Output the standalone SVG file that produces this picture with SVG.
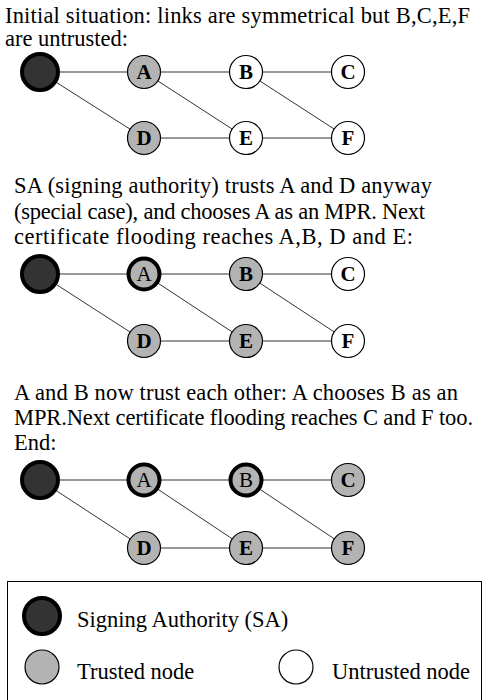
<svg xmlns="http://www.w3.org/2000/svg" width="485" height="700" viewBox="0 0 485 700">
<style>
.t{font-family:"Liberation Serif","Times New Roman",serif;font-size:22.5px;fill:#000}
.lbl{font-family:"Liberation Serif","Times New Roman",serif;font-size:21px;font-weight:bold;text-anchor:middle;fill:#000}
.lbln{font-family:"Liberation Serif","Times New Roman",serif;font-size:21px;text-anchor:middle;fill:#000}
.sa{fill:#333;stroke:#000;stroke-width:4}
.tr{fill:#b3b3b3;stroke:#000;stroke-width:1.2}
.un{fill:#fff;stroke:#000;stroke-width:1.2}
.mpr{fill:#b3b3b3;stroke:#000;stroke-width:4}
.e{stroke:#333;stroke-width:1;fill:none}
</style>
<rect x="0" y="0" width="485" height="700" fill="#fff"/>

<g id="text1">
<text class="t" x="5" y="23" textLength="465" lengthAdjust="spacing">Initial situation: links are symmetrical but B,C,E,F</text>
<text class="t" x="5" y="46">are untrusted:</text>
</g>
<g id="text2">
<text class="t" x="14" y="193" textLength="418" lengthAdjust="spacing">SA (signing authority) trusts A and D anyway</text>
<text class="t" x="14" y="219" textLength="411" lengthAdjust="spacing">(special case), and chooses A as an MPR. Next</text>
<text class="t" x="14" y="244" textLength="399" lengthAdjust="spacing">certificate flooding reaches A,B, D and E:</text>
</g>
<g id="text3">
<text class="t" x="14" y="400" textLength="444" lengthAdjust="spacing">A and B now trust each other: A chooses B as an</text>
<text class="t" x="14" y="425" textLength="459" lengthAdjust="spacing">MPR.Next certificate flooding reaches C and F too.</text>
<text class="t" x="14" y="450">End:</text>
</g>

<g id="connectors">
<path class="e" d="M40 72H348M144 138H348M40 72L144 138M144 72L246 138M246 72L348 138"/>
<path class="e" d="M40 274H348M144 341H348M40 274L144 341M144 274L246 341M246 274L348 341"/>
<path class="e" d="M40 480H348M144 548H348M40 480L144 548M144 480L246 548M246 480L348 548"/>
</g>

<g id="d1-SA"><circle class="sa" cx="40" cy="72" r="18"/></g>
<g id="d1-A"><circle class="tr" cx="144" cy="72" r="16.5"/><text class="lbl" x="144" y="79">A</text></g>
<g id="d1-B"><circle class="un" cx="246" cy="72" r="16.5"/><text class="lbl" x="246" y="79">B</text></g>
<g id="d1-C"><circle class="un" cx="348" cy="72" r="16.5"/><text class="lbl" x="348" y="79">C</text></g>
<g id="d1-D"><circle class="tr" cx="144" cy="138" r="16.5"/><text class="lbl" x="144" y="145">D</text></g>
<g id="d1-E"><circle class="un" cx="246" cy="138" r="16.5"/><text class="lbl" x="246" y="145">E</text></g>
<g id="d1-F"><circle class="un" cx="348" cy="138" r="16.5"/><text class="lbl" x="348" y="145">F</text></g>

<g id="d2-SA"><circle class="sa" cx="40" cy="274" r="18"/></g>
<g id="d2-A"><circle class="mpr" cx="144" cy="274" r="15.5"/><text class="lbln" x="144" y="281">A</text></g>
<g id="d2-B"><circle class="tr" cx="246" cy="274" r="16.5"/><text class="lbl" x="246" y="281">B</text></g>
<g id="d2-C"><circle class="un" cx="348" cy="274" r="16.5"/><text class="lbl" x="348" y="281">C</text></g>
<g id="d2-D"><circle class="tr" cx="144" cy="341" r="16.5"/><text class="lbl" x="144" y="348">D</text></g>
<g id="d2-E"><circle class="tr" cx="246" cy="341" r="16.5"/><text class="lbl" x="246" y="348">E</text></g>
<g id="d2-F"><circle class="un" cx="348" cy="341" r="16.5"/><text class="lbl" x="348" y="348">F</text></g>

<g id="d3-SA"><circle class="sa" cx="40" cy="480" r="18"/></g>
<g id="d3-A"><circle class="mpr" cx="144" cy="480" r="15.5"/><text class="lbln" x="144" y="487">A</text></g>
<g id="d3-B"><circle class="mpr" cx="246" cy="480" r="15.5"/><text class="lbln" x="246" y="487">B</text></g>
<g id="d3-C"><circle class="tr" cx="348" cy="480" r="16.5"/><text class="lbl" x="348" y="487">C</text></g>
<g id="d3-D"><circle class="tr" cx="144" cy="548" r="16.5"/><text class="lbl" x="144" y="555">D</text></g>
<g id="d3-E"><circle class="tr" cx="246" cy="548" r="16.5"/><text class="lbl" x="246" y="555">E</text></g>
<g id="d3-F"><circle class="tr" cx="348" cy="548" r="16.5"/><text class="lbl" x="348" y="555">F</text></g>

<g id="legend">
<rect x="7.5" y="581.5" width="474" height="130" fill="#fff" stroke="#000" stroke-width="1"/>
<circle class="sa" cx="42" cy="616" r="18"/>
<text class="t" x="77" y="627">Signing Authority (SA)</text>
<circle class="tr" cx="42" cy="667" r="17"/>
<text class="t" x="77" y="679">Trusted node</text>
<circle class="un" cx="296" cy="667" r="17"/>
<text class="t" x="332" y="679">Untrusted node</text>
</g>
</svg>
